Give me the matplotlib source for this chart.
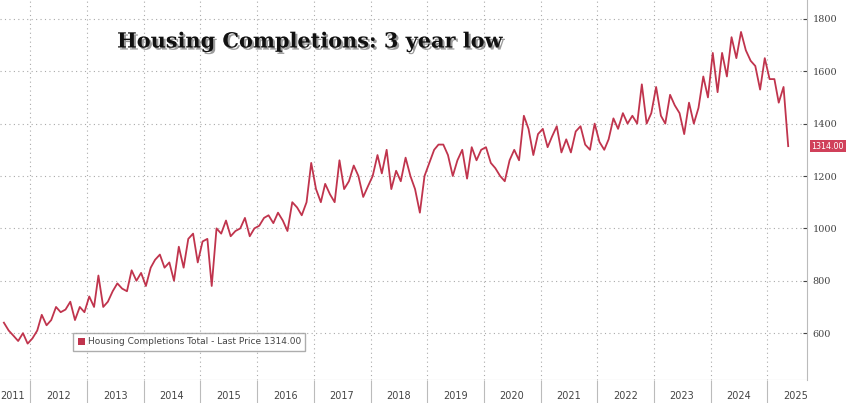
import matplotlib
matplotlib.use("Agg")
import matplotlib.pyplot as plt
import matplotlib.dates as mdates
import matplotlib.patheffects as pe
import datetime as dt

start_year, start_month = 2011, 7
values = [640, 610, 590, 570, 600, 560,
 580, 610, 670, 630, 650, 700, 680, 690, 720, 650, 700, 680,
 740, 700, 820, 700, 720, 760, 790, 770, 760, 840, 800, 830,
 780, 850, 880, 900, 850, 870, 800, 930, 850, 960, 980, 870,
 950, 960, 780, 1000, 980, 1030, 970, 990, 1000, 1040, 970, 1000,
 1010, 1040, 1050, 1020, 1060, 1030, 990, 1100, 1080, 1050, 1100, 1250,
 1150, 1100, 1170, 1130, 1100, 1260, 1150, 1180, 1240, 1200, 1120, 1160,
 1200, 1280, 1210, 1300, 1150, 1220, 1180, 1270, 1200, 1150, 1060, 1200,
 1250, 1300, 1320, 1320, 1280, 1200, 1260, 1300, 1190, 1310, 1260, 1300,
 1310, 1250, 1230, 1200, 1180, 1260, 1300, 1260, 1430, 1380, 1280, 1360,
 1380, 1310, 1350, 1390, 1290, 1340, 1290, 1370, 1390, 1320, 1300, 1400,
 1330, 1300, 1340, 1420, 1380, 1440, 1400, 1430, 1400, 1550, 1400, 1440,
 1540, 1430, 1400, 1510, 1470, 1440, 1360, 1480, 1400, 1460, 1580, 1500,
 1670, 1520, 1670, 1580, 1730, 1650, 1750, 1680, 1640, 1620, 1530, 1650,
 1570, 1570, 1480, 1540, 1314]
years = list(range(2011, 2026))
y_ticks = [600, 800, 1000, 1200, 1400, 1600, 1800]
last_price = 1314.00

dates = []
y, m = start_year, start_month
for _ in values:
    dates.append(dt.date(y, m, 15))
    m += 1
    if m > 12:
        m = 1; y += 1

fig = plt.figure(figsize=(8.48, 4.03), dpi=100)
ax = fig.add_axes([0.0, 0.057, 0.952, 0.943])
red = "#c0344d"
ax.plot(dates, values, color=red, lw=1.3)
ax.set_ylim(421, 1872)
ax.set_xlim(dt.date(2011, 6, 20), dt.date(2025, 9, 15))
ax.yaxis.tick_right()
ax.set_yticks(y_ticks)
ax.set_yticklabels([str(v) for v in y_ticks], fontsize=7, color="#444", fontfamily="DejaVu Serif")
ax.xaxis.set_major_locator(mdates.YearLocator())
ax.xaxis.set_major_formatter(plt.NullFormatter())
ax.set_xticks([dt.date(yr, 7, 1) if yr > 2011 else dt.date(2011, 6, 22) for yr in years], minor=True)
ax.set_xticklabels([str(yr) for yr in years], minor=True)
ax.tick_params(axis="x", which="minor", length=0, labelsize=7, colors="#444", pad=8)
ax.get_xticklabels(minor=True)[0].set_ha("left")
ax.tick_params(axis="x", which="major", length=22, color="#bbb", direction="out")
ax.tick_params(axis="y", length=3, color="#444", direction="in", pad=4)
ax.grid(True, which="major", ls=(0, (1, 3)), color="#aaa", lw=0.8)
for s in ["top", "left", "bottom"]:
    ax.spines[s].set_visible(False)
ax.spines["right"].set_color("#bbb")
ax.axhline(421, color="#bbb", lw=0.8)

ax.text(0.145, 0.875, "Housing Completions: 3 year low", transform=ax.transAxes,
        fontsize=15, fontweight="bold", fontfamily="DejaVu Serif", color="#111",
        path_effects=[pe.withSimplePatchShadow(offset=(1.5, -1.5), alpha=0.4)])

ax.annotate(f"{last_price:.2f}", xy=(1.0, last_price), xycoords=("axes fraction", "data"),
            xytext=(3, 0), textcoords="offset points", fontsize=5.8, color="white",
            va="center", ha="left",
            bbox=dict(boxstyle="square,pad=0.2", fc="#d0405a", ec="none"),
            annotation_clip=False)

from matplotlib.patches import Patch
leg = ax.legend([Patch(fc=red)], [f"Housing Completions Total - Last Price {last_price:.2f}"],
                loc="lower left", bbox_to_anchor=(0.085, 0.065), fontsize=6.5,
                frameon=True, fancybox=False, edgecolor="#999", handlelength=0.8,
                handleheight=0.8, handletextpad=0.3, borderpad=0.5)
for t in leg.get_texts():
    t.set_color("#444")

fig.savefig("out.png", dpi=100)
